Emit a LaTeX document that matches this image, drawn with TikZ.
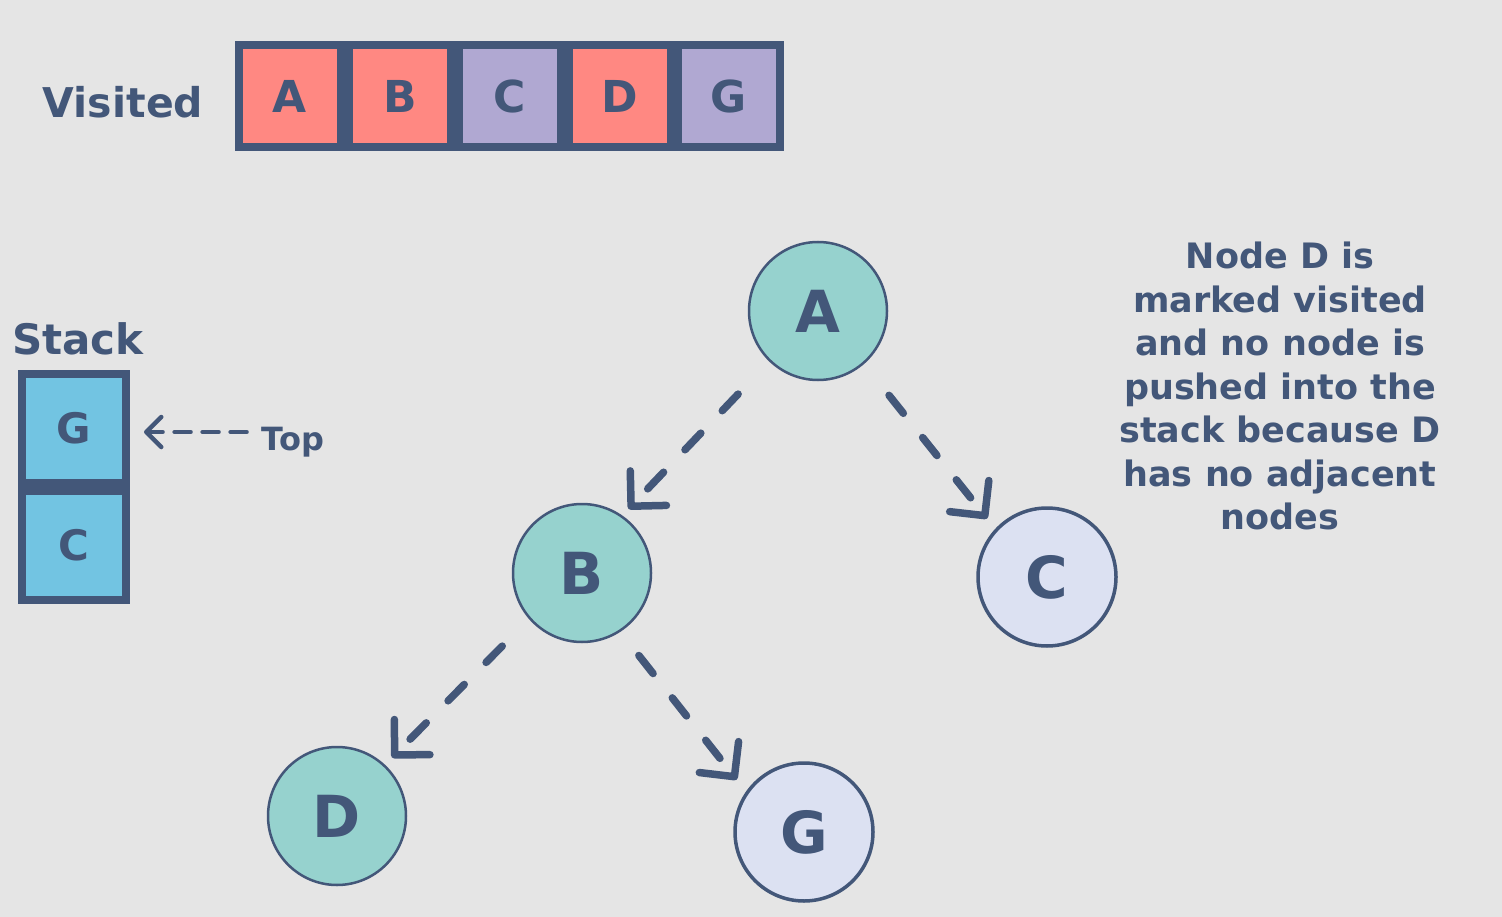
\documentclass[tikz,border=0pt]{standalone}
\usepackage{fontspec}
\setmainfont{DejaVu Sans}
\usetikzlibrary{arrows.meta}
\definecolor{bgc}{HTML}{E5E5E5}
\definecolor{ink}{HTML}{435779}
\definecolor{salmon}{HTML}{FF8882}
\definecolor{lav}{HTML}{B0A8D2}
\definecolor{sblue}{HTML}{72C4E2}
\definecolor{teal}{HTML}{96D2CE}
\definecolor{pale}{HTML}{DCE1F2}
\tikzset{
  vbox/.style={draw=ink, line width=8pt, minimum width=102pt, minimum height=102pt, inner sep=0pt,
    text=ink, font=\fontsize{44}{52}\selectfont\bfseries},
  sbox/.style={draw=ink, line width=8pt, minimum width=104pt, minimum height=109pt, inner sep=0pt,
    fill=sblue, text=ink, font=\fontsize{42}{50}\selectfont\bfseries},
  gnode/.style={circle, draw=ink, line width=2.5pt, minimum size=138pt, inner sep=0pt,
    text=ink, font=\fontsize{58}{68}\selectfont\bfseries},
  label/.style={text=ink, inner sep=0pt, font=\bfseries},
  arr/.style={draw=ink, line width=7.5pt, line cap=round, dash pattern=on 23pt off 31pt,
    -{Straight Barb[length=25pt, width=50pt, line width=7.5pt, round]}},
}
\begin{document}
\begin{tikzpicture}[x=1pt,y=-1pt]
\fill[bgc] (0,0) rectangle (1502,917);
\useasboundingbox (0,0) rectangle (1502,917);

% Visited row
\node[label, font=\fontsize{41}{49}\selectfont\bfseries] (vis) at (123,102) {Visited};
\node[vbox, fill=salmon] (vA) at (290,96) {A};
\node[vbox, fill=salmon] (vB) at (400,96) {B};
\node[vbox, fill=lav]    (vC) at (510,96) {C};
\node[vbox, fill=salmon] (vD) at (620,96) {D};
\node[vbox, fill=lav]    (vG) at (729,96) {G};

% Stack
\node[label, font=\fontsize{42}{50}\selectfont\bfseries] (stk) at (78,339) {Stack};
\node[sbox] (sG) at (74,428) {G};
\node[sbox] (sC) at (74,545) {C};
\node[label, font=\fontsize{32}{38}\selectfont\bfseries] (top) at (293,442) {Top};
\draw[ink, line width=4.5pt, line cap=round, dash pattern=on 16pt off 12pt,
  shorten <=15pt, shorten >=14pt, -{Straight Barb[length=15pt, width=30pt, line width=4.5pt, round]}]
  (top.west |- 0,432) -- (sG.east |- 0,432);

% Graph
\node[gnode, fill=teal] (A) at (818,311) {A};
\node[gnode, fill=teal] (B) at (582,573) {B};
\node[gnode, fill=pale, line width=3.5pt] (C) at (1047,577) {C};
\node[gnode, fill=teal] (D) at (337,816) {D};
\node[gnode, fill=pale, line width=3.5pt] (G) at (804,832) {G};

\draw[arr, shorten <=45pt, shorten >=9pt] (A.226) -- (B.55);
\draw[arr, shorten <=40pt, shorten >=13pt] (A.-49) -- (C.137);
\draw[arr, shorten <=38pt, shorten >=10pt] (B.221) -- (D.47);
\draw[arr, shorten <=30pt, shorten >=15pt] (B.-57) -- (G.145);

% Note
\node[label, align=center, font=\fontsize{35}{43.5}\selectfont\bfseries] (note) at (1280,386)
  {Node D is\\marked visited\\and no node is\\pushed into the\\stack because D\\has no adjacent\\nodes};
\end{tikzpicture}
\end{document}
